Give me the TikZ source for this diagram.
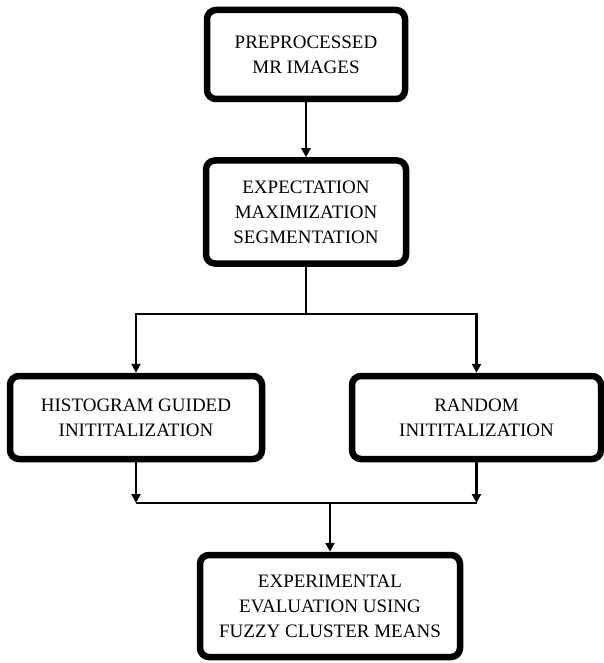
\documentclass[tikz,border=0pt]{standalone}
\usepackage{fontspec}
\setmainfont{Liberation Serif}
\usepackage{tikz}
\usetikzlibrary{arrows.meta, positioning}

\begin{document}
\begin{tikzpicture}[
    x=1pt, y=1pt,
    box/.style={rectangle, draw=black, line width=6.5pt, rounded corners=9pt, align=center, fill=white,
                font=\fontsize{19}{25}\selectfont, inner sep=2pt},
    line/.style={line width=2.5pt},
    arrow/.style={-{Triangle[length=9pt, width=9pt]}, line width=2.5pt}
]
    \useasboundingbox (0,0) rectangle (604,-663);

    % Nodes
    \node[box, minimum width=198pt, minimum height=89pt] (pre) at (306,-54.5) {PREPROCESSED\\MR IMAGES};
    \node[box, minimum width=200pt, minimum height=103pt] (em) [below=55pt of pre] {EXPECTATION\\MAXIMIZATION\\SEGMENTATION};
    \node[box, minimum width=252pt, minimum height=83pt] (hist) at (136,-417.5) {HISTOGRAM GUIDED\\INITITALIZATION};
    \node[box, minimum width=249pt, minimum height=83pt] (rand) at (476.5,-417.5) {RANDOM\\INITITALIZATION};
    \node[box, minimum width=260pt, minimum height=102pt] (fcm) at (330,-606) {EXPERIMENTAL\\EVALUATION USING\\FUZZY CLUSTER MEANS};

    % Split and merge points
    \coordinate (split) at (306,-314);
    \coordinate (merge) at (330,-503);

    % Arrows
    \draw[arrow] (pre) -- (em);
    \draw[line] (em.south) -- (split);
    \draw[arrow] (split) -| (hist.north);
    \draw[arrow] (split) -| (rand.north);

    \draw[arrow] (hist.south) -- (hist.south |- merge);
    \draw[arrow] (rand.south) -- (rand.south |- merge);
    \draw[line] (hist.south |- merge) -- (rand.south |- merge);
    \draw[arrow] (merge) -- (fcm.north);
\end{tikzpicture}
\end{document}
